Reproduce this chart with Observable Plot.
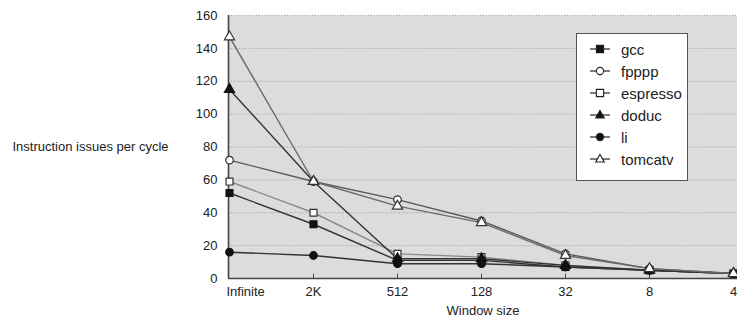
<!DOCTYPE html>
<html>
<head>
<meta charset="utf-8">
<script src="https://cdn.jsdelivr.net/npm/d3@7"></script>
<script src="https://cdn.jsdelivr.net/npm/@observablehq/plot@0.6"></script>
<style>
  html, body { margin: 0; padding: 0; background: #fff; overflow: hidden; }
  #wrap { position: relative; width: 737px; height: 328px; font-family: "Liberation Sans", Arial, sans-serif; }
  #legend { position: absolute; left: 576px; top: 33px; width: 112px; height: 148px; background: #fff; border: 1px solid #555; box-sizing: border-box; }
  .lg { position: absolute; left: 12px; height: 20px; display: flex; align-items: center; font-size: 15px; color: #222; }
  .lg svg { margin-right: 10px; }
</style>
</head>
<body>
<div id="wrap"></div>
<script>
const categories = ["Infinite", "2K", "512", "128", "32", "8", "4"];
const seriesNames = ["gcc", "fpppp", "espresso", "doduc", "li", "tomcatv"];
const gcc      = [52, 33, 11, 11, 7, 5, 3];
const fpppp    = [72, 59, 48, 35, 15, 6, 3];
const espresso = [59, 40, 15, 13, 8, 5, 3];
const doduc    = [115, 59, 12, 12, 8, 5, 3];
const li       = [16, 14, 9, 9, 7, 5, 3];
const tomcatv  = [147, 59, 44, 34, 14, 6, 3];
const yTicks = [0, 20, 40, 60, 80, 100, 120, 140, 160];

const values = {gcc, fpppp, espresso, doduc, li, tomcatv};
const symbols = {gcc: "square", fpppp: "circle", espresso: "square", doduc: "triangle", li: "circle", tomcatv: "triangle"};
const filled = {gcc: true, fpppp: false, espresso: false, doduc: true, li: true, tomcatv: false};
const lineColor = {gcc: "#333", fpppp: "#5a5a5a", espresso: "#8a8a8a", doduc: "#333", li: "#333", tomcatv: "#6a6a6a"};
const sizes = {square: 3.9, circle: 3.8, triangle: 3.8};

const data = seriesNames.flatMap(s => categories.map((c, i) => ({series: s, cat: c, value: values[s][i]})));

const marks = [
  Plot.frame({fill: "#dddbdb", stroke: null}),
  Plot.ruleY(yTicks.filter(t => t > 0), {stroke: "#a4a4a4", strokeDasharray: "1.2,1.6", strokeWidth: 1}),
  Plot.ruleX(categories.slice(1), {x: d => d, y1: 0, y2: 2.6, stroke: "#444"}),
  Plot.ruleY([0], {stroke: "#444", strokeWidth: 1.6}),
  Plot.ruleX([categories[0]], {x: d => d, y1: 0, y2: 160, stroke: "#444", strokeWidth: 1.6, dx: -1}),
];
for (const s of seriesNames) {
  marks.push(Plot.line(data.filter(d => d.series === s), {x: "cat", y: "value", stroke: lineColor[s], strokeWidth: 1.4}));
}
for (const s of seriesNames) {
  marks.push(Plot.dot(data.filter(d => d.series === s), {
    x: "cat", y: "value", symbol: () => symbols[s], r: sizes[symbols[s]],
    fill: filled[s] ? "#111" : "#fff", stroke: filled[s] ? "#111" : "#333", strokeWidth: 1.2
  }));
}
marks.push(
  Plot.axisY({ticks: yTicks, tickSize: 0, tickPadding: 11, fontSize: 13, fill: "#222", label: null}),
  Plot.text([categories[0]], {x: d => d, frameAnchor: "bottom", dy: 17, dx: -3, textAnchor: "start", fontSize: 13, fill: "#222"}),
  Plot.text(categories.slice(1), {x: d => d, frameAnchor: "bottom", dy: 17, fontSize: 13, fill: "#222"}),
  Plot.text(["Window size"], {frameAnchor: "bottom", dy: 36, fontSize: 13, fill: "#222"}),
  Plot.text(["Instruction issues per cycle"], {frameAnchor: "left", dx: -216, textAnchor: "start", fontSize: 13, fill: "#222"})
);

const chart = Plot.plot({
  width: 737,
  height: 328,
  marginLeft: 228,
  marginRight: 0,
  marginTop: 15,
  marginBottom: 50,
  style: {fontFamily: "'Liberation Sans', Arial, sans-serif", color: "#222", background: "#fff"},
  x: {type: "point", domain: categories, range: [228, 734], padding: 0, axis: null},
  y: {domain: [0, 160]},
  symbol: {type: "identity"},
  marks
});

const wrap = document.getElementById("wrap");
wrap.appendChild(chart);

// legend
const legend = document.createElement("div");
legend.id = "legend";
const shapePath = {
  square: "M-3.6,-3.6h7.2v7.2h-7.2z",
  circle: "M3.6,0A3.6,3.6,0,1,1,-3.6,0A3.6,3.6,0,1,1,3.6,0",
  triangle: "M0,-4.6L4.3,3L-4.3,3z"
};
seriesNames.forEach((s, i) => {
  const row = document.createElement("div");
  row.className = "lg";
  row.style.top = (5 + i * 22) + "px";
  const f = filled[s] ? "#111" : "#fff";
  row.innerHTML = `<svg width="22" height="12" viewBox="-11 -6 22 12"><line x1="-10" x2="10" y1="0" y2="0" stroke="#333" stroke-width="1.3"/><path d="${shapePath[symbols[s]]}" fill="${f}" stroke="#222" stroke-width="1.1"/></svg><span>${s}</span>`;
  legend.appendChild(row);
});
wrap.appendChild(legend);
</script>
</body>
</html>
